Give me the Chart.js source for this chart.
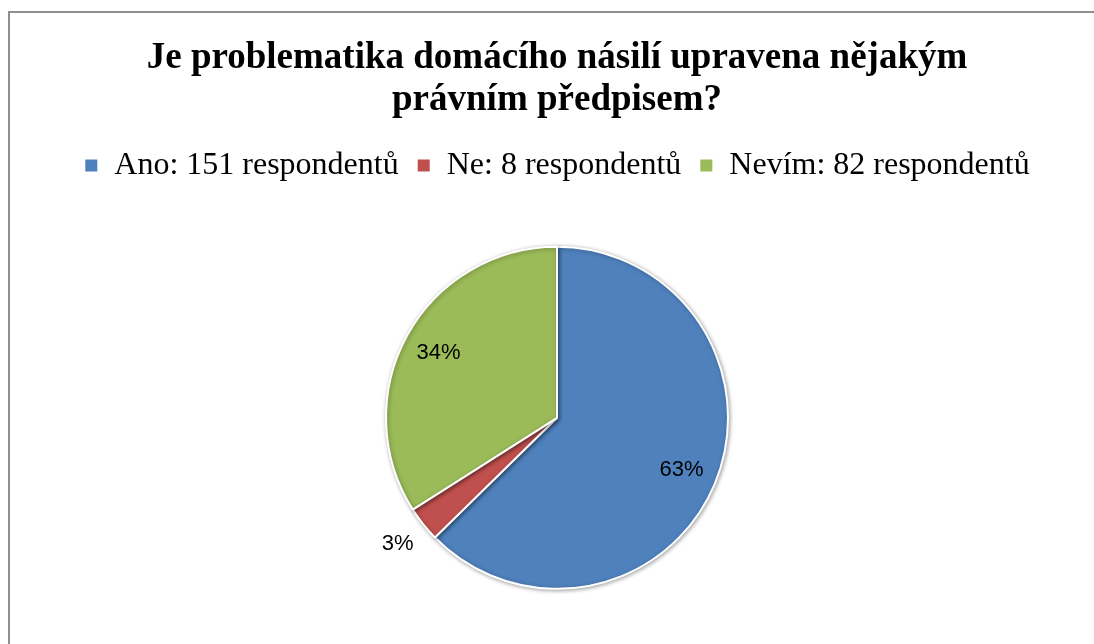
<!DOCTYPE html>
<html>
<head>
<meta charset="utf-8">
<script src="https://cdn.jsdelivr.net/npm/chart.js@4"></script>
<style>
  html, body { margin: 0; padding: 0; background: #fff; overflow: hidden; }
  #frame { position: absolute; left: 8px; top: 11px; width: 1200px; height: 800px;
           border-left: 2px solid #8e8e8e; border-top: 2px solid #8e8e8e; }
  #wrap { position: absolute; left: 0; top: 0; width: 1094px; height: 644px; }
</style>
</head>
<body>
<div id="frame"></div>
<div id="wrap"><canvas id="graf"></canvas></div>
<script>
// data
const kategorie = ['Ano', 'Ne', 'Nevím'];
const respondenti = [151, 8, 82];
const barvy = ['#4F81BD', '#C0504D', '#9BBB59'];
const nadpis = ['Je problematika domácího násilí upravena nějakým', 'právním předpisem?'];

const celkem = respondenti.reduce((a, b) => a + b, 0);

// procenta do výsečí (jako v Excelu)
const popisky = {
  id: 'popisky',
  afterDatasetsDraw(chart) {
    const ctx = chart.ctx;
    const meta = chart.getDatasetMeta(0);
    ctx.save();
    ctx.font = '22px "Liberation Sans", Arial, sans-serif';
    ctx.fillStyle = '#000';
    ctx.textAlign = 'center';
    ctx.textBaseline = 'middle';
    meta.data.forEach((arc, i) => {
      const p = arc.getProps(['x', 'y', 'startAngle', 'endAngle', 'outerRadius']);
      const mid = (p.startAngle + p.endAngle) / 2;
      const podil = respondenti[i] / celkem;
      const r = podil < 0.1 ? p.outerRadius * 1.19 : p.outerRadius * 0.79;
      const txt = Math.round(podil * 100) + '%';
      ctx.fillText(txt, p.x + Math.cos(mid) * r, p.y + Math.sin(mid) * r);
    });
    ctx.restore();
  }
};

// jemný stín pod koláčem
const stin = {
  id: 'stin',
  beforeDatasetDraw(chart) {
    const ctx = chart.ctx;
    ctx.save();
    ctx.shadowColor = 'rgba(0,0,0,0.35)';
    ctx.shadowBlur = 4;
    ctx.shadowOffsetX = 1;
    ctx.shadowOffsetY = 1;
  },
  afterDatasetDraw(chart) {
    chart.ctx.restore();
  }
};

new Chart(document.getElementById('graf'), {
  type: 'pie',
  data: {
    labels: kategorie.map((k, i) => k + ': ' + respondenti[i] + ' respondentů'),
    datasets: [{
      data: respondenti,
      backgroundColor: barvy,
      borderColor: '#ffffff',
      borderWidth: 2,
      radius: 171
    }]
  },
  options: {
    responsive: true,
    maintainAspectRatio: false,
    animation: false,
    layout: { padding: { left: 20, right: 0, top: 0, bottom: -1 } },
    plugins: {
      tooltip: { enabled: false },
      title: {
        display: true,
        text: nadpis,
        color: '#000',
        font: { family: '"Liberation Serif", "Times New Roman", serif', size: 37, weight: 'bold', lineHeight: 1.13 },
        padding: { top: 38, bottom: 10 }
      },
      legend: {
        position: 'top',
        labels: {
          color: '#000',
          font: { family: '"Liberation Serif", "Times New Roman", serif', size: 32 },
          boxWidth: 14,
          boxHeight: 14,
          padding: 18
        }
      }
    }
  },
  plugins: [stin, popisky]
});
</script>
</body>
</html>
